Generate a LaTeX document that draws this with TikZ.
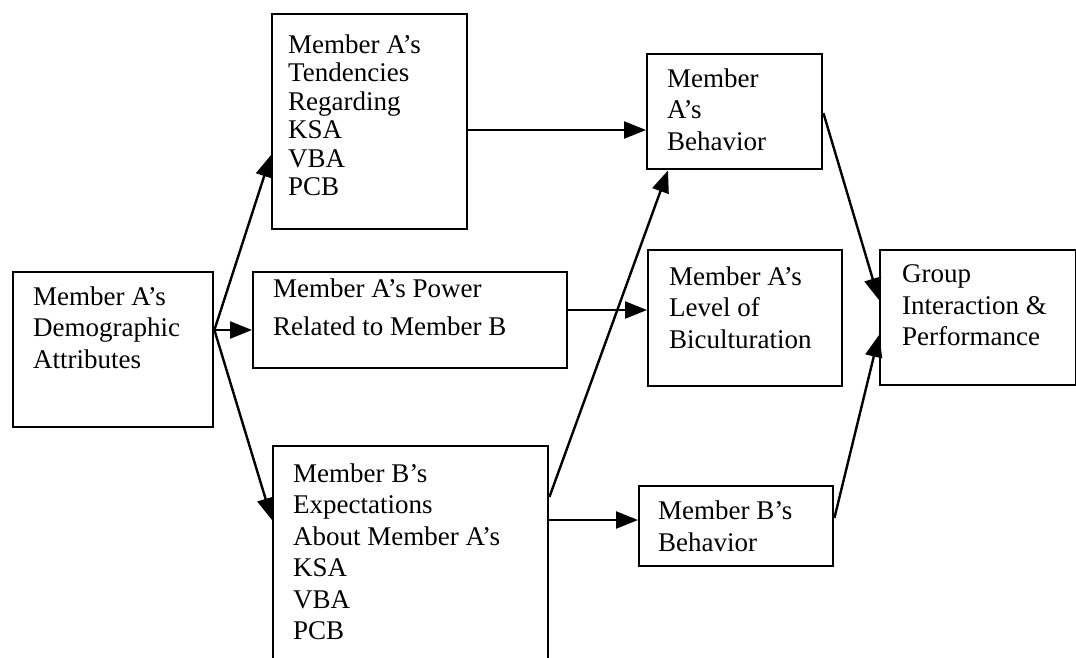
\documentclass[tikz,border=0pt]{standalone}
\usepackage{fontspec}
\setmainfont{Liberation Serif}
\usetikzlibrary{arrows.meta}
\begin{document}
\begin{tikzpicture}[x=1pt,y=-1pt,
  box/.style={draw, line width=2.4pt, rectangle, inner sep=0pt, anchor=north west},
  lbl/.style={anchor=north west, inner sep=0pt, align=left, font=\fontsize{27}{31.5}\selectfont},
  arr/.style={line width=2.4pt, -{Triangle[length=22pt,width=17pt]}}]
\useasboundingbox (0,0) rectangle (1076,657);
\clip (0,0) rectangle (1076,657);
% boxes
\node[box, minimum width=200pt, minimum height=155pt] (demo) at (12,271) {};
\node[box, minimum width=195pt, minimum height=215pt] (tend) at (271,13) {};
\node[box, minimum width=314pt, minimum height=96pt]  (power) at (252,271) {};
\node[box, minimum width=275pt, minimum height=240pt] (expect) at (272,445) {};
\node[box, minimum width=175pt, minimum height=115pt] (abeh) at (646,53) {};
\node[box, minimum width=194pt, minimum height=136pt] (bicult) at (647,249) {};
\node[box, minimum width=194pt, minimum height=80pt]  (bbeh) at (638,485) {};
\node[box, minimum width=196pt, minimum height=135pt] (group) at (879,249) {};
% labels
\node[lbl] (tdemo) at ([shift={(21pt,-15.5pt)}]demo.north west) {Member A’s\\Demographic\\Attributes};
\node[lbl, font=\fontsize{27}{28.5}\selectfont] (ttend) at ([shift={(17pt,-21.5pt)}]tend.north west) {Member A’s\\Tendencies\\Regarding\\KSA\\VBA\\PCB};
\node[lbl, font=\fontsize{27}{38}\selectfont] (tpower) at ([shift={(21pt,-7.5pt)}]power.north west) {Member A’s Power\\Related to Member B};
\node[lbl] (texpect) at ([shift={(21pt,-18.5pt)}]expect.north west) {Member B’s\\Expectations\\About Member A’s\\KSA\\VBA\\PCB};
\node[lbl] (tabeh) at ([shift={(21pt,-15.5pt)}]abeh.north west) {Member\\A’s\\Behavior};
\node[lbl] (tbicult) at ([shift={(22pt,-17.5pt)}]bicult.north west) {Member A’s\\Level of\\Biculturation};
\node[lbl] (tbbeh) at ([shift={(20pt,-16pt)}]bbeh.north west) {Member B’s\\Behavior};
\node[lbl] (tgroup) at ([shift={(23pt,-15.5pt)}]group.north west) {Group\\Interaction \&\\Performance};
% connectors
\coordinate (d0) at ([yshift=-59pt]demo.north east);
\draw[arr] (d0) -- ([yshift=-142pt]tend.north west);
\draw[arr] (d0) -- ([yshift=-59pt]power.north west);
\draw[arr] (d0) -- ([yshift=-75pt]expect.north west);
\draw[arr] ([yshift=-117pt]tend.north east) -- ([yshift=-77pt]abeh.north west);
\draw[arr] ([yshift=-39pt]power.north east) -- ([yshift=-61pt]bicult.north west);
\draw[arr] ([yshift=-52pt]expect.north east) -- ([xshift=22pt]abeh.south west);
\draw[arr] ([yshift=-75pt]expect.north east) -- ([yshift=-35pt]bbeh.north west);
\draw[arr] ([yshift=-60pt]abeh.north east) -- ([yshift=-51pt]group.north west);
\draw[arr] ([yshift=-33pt]bbeh.north east) -- ([yshift=-86pt]group.north west);
\end{tikzpicture}
\end{document}
